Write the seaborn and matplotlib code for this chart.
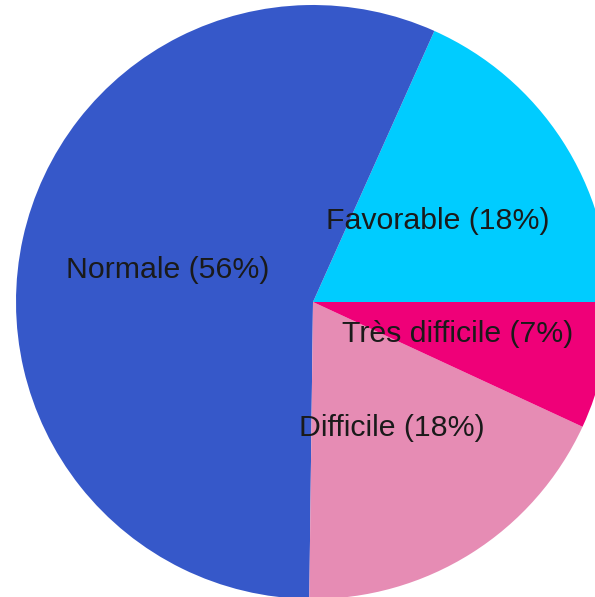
import matplotlib
matplotlib.use("Agg")
import matplotlib.pyplot as plt
import seaborn as sns

categories = ["Favorable", "Normale", "Difficile", "Très difficile"]
values = [18.3, 56.5, 18.3, 6.9]
pct_labels = ["18%", "56%", "18%", "7%"]
colors = ["#00ccff", "#3658c9", "#e68cb4", "#ef0078"]

sns.set_style("white")
plt.rcParams["font.family"] = ["Liberation Sans", "DejaVu Sans"]

W, H = 595, 597
fig = plt.figure(figsize=(W / 100, H / 100), dpi=100)
cx, cy, R = 313, 302, 297
ax = fig.add_axes([(cx - R) / W, (H - cy - R) / H, 2 * R / W, 2 * R / H])

labels = [f"{c} ({p})" for c, p in zip(categories, pct_labels)]
wedges, texts = ax.pie(values, labels=labels, colors=colors, startangle=0,
                       counterclock=True, labeldistance=0.5,
                       wedgeprops=dict(linewidth=0),
                       textprops=dict(fontsize=21.8, color="#1a1a1a"))
for t in texts:
    t.set_horizontalalignment("center")
    t.set_verticalalignment("center")
ax.set_aspect("auto")
ax.set_xlim(-1, 1)
ax.set_ylim(-1, 1)
ax.axis("off")

fig.savefig("out.png", dpi=100)
